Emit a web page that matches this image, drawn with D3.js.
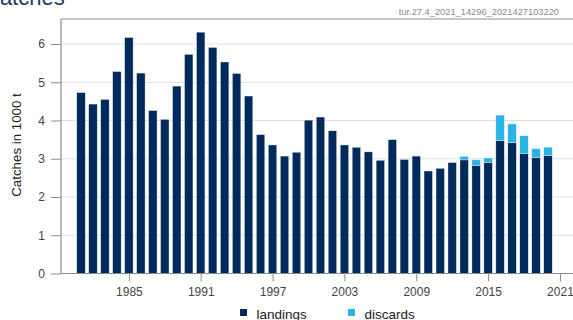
<!DOCTYPE html>
<html>
<head>
<meta charset="utf-8">
<script src="https://cdn.jsdelivr.net/npm/d3@7/dist/d3.min.js"></script>
<style>
  html, body { margin: 0; padding: 0; background: #fff; overflow: hidden; }
  svg { display: block; font-family: Arial, "Liberation Sans", sans-serif; }
</style>
</head>
<body>
<svg id="chart" width="573" height="320"></svg>
<script>
// Catch time series (thousand tonnes)
const years = d3.range(1981, 2021);
const landings = [
  4.73, 4.43, 4.55, 5.28, 6.17, 5.24, 4.26, 4.03, 4.90, 5.73,
  6.31, 5.91, 5.53, 5.23, 4.64, 3.63, 3.36, 3.07, 3.17, 4.01,
  4.09, 3.73, 3.36, 3.30, 3.18, 2.96, 3.50, 2.98, 3.07, 2.68,
  2.75, 2.90, 2.97, 2.83, 2.91, 3.48, 3.42, 3.13, 3.03, 3.09
];
const discards = [
  0, 0, 0, 0, 0, 0, 0, 0, 0, 0,
  0, 0, 0, 0, 0, 0, 0, 0, 0, 0,
  0, 0, 0, 0, 0, 0, 0, 0, 0, 0,
  0, 0, 0.09, 0.14, 0.11, 0.66, 0.49, 0.47, 0.23, 0.21
];
const yTicks = [0, 1, 2, 3, 4, 5, 6];
const xTicks = [1985, 1991, 1997, 2003, 2009, 2015, 2021];
const seriesNames = ["landings", "discards"];
const seriesColors = ["#002a5c", "#29b4e8"];

const svg = d3.select("#chart");
const plotL = 61, plotR = 573, plotT = 19, plotB = 273.5;

const x = d3.scaleLinear().domain([1979.33, 2022.09]).range([plotL, plotR]);
const y = d3.scaleLinear().domain([0, 6.654]).range([plotB, plotT]);
const barW = 8.4;

// Title (partly outside the canvas) and stock code
svg.append("text")
  .attr("x", -16).attr("y", 5)
  .attr("font-size", 22).attr("fill", "#1b3a64")
  .text("Catches");
svg.append("text")
  .attr("x", 559).attr("y", 14.5)
  .attr("text-anchor", "end")
  .attr("font-size", 9.3).attr("fill", "#8a8a8a")
  .text("tur.27.4_2021_14296_2021427103220");

// Horizontal gridlines
svg.append("g")
  .selectAll("line")
  .data(yTicks.filter(d => d > 0))
  .join("line")
  .attr("x1", plotL).attr("x2", plotR)
  .attr("y1", d => y(d)).attr("y2", d => y(d))
  .attr("stroke", "#dedede").attr("stroke-width", 1);

// Stacked bars
const rows = years.map((yr, i) => ({ year: yr, landings: landings[i], discards: discards[i] }));
const stack = d3.stack().keys(seriesNames)(rows);
const color = d3.scaleOrdinal().domain(seriesNames).range(seriesColors);

svg.append("g")
  .selectAll("g")
  .data(stack)
  .join("g")
  .attr("fill", d => color(d.key))
  .selectAll("rect")
  .data(d => d.filter(p => p[1] - p[0] > 0))
  .join("rect")
  .attr("x", d => x(d.data.year) - barW / 2)
  .attr("width", barW)
  .attr("y", d => y(d[1]))
  .attr("height", d => y(d[0]) - y(d[1]))
  .attr("stroke", "#e6ecf3").attr("stroke-width", 0.4);

// Frame: top edge
svg.append("line")
  .attr("x1", plotL).attr("x2", plotR)
  .attr("y1", plotT).attr("y2", plotT)
  .attr("stroke", "#8c8c8c").attr("stroke-width", 1.2);

// Y axis
const yAxis = svg.append("g")
  .attr("transform", `translate(${plotL},0)`)
  .call(d3.axisLeft(y).tickValues(yTicks).tickSize(10).tickPadding(6).tickFormat(d3.format("d")));
yAxis.select(".domain").attr("stroke", "#8c8c8c").attr("stroke-width", 1.2)
  .attr("d", `M0,${plotT}V${plotB}`);
yAxis.selectAll(".tick line").attr("stroke", "#8c8c8c");
yAxis.selectAll(".tick text").attr("font-size", 12).attr("fill", "#444")
  .attr("font-family", "Arial, 'Liberation Sans', sans-serif");

// X axis
const xAxis = svg.append("g")
  .attr("transform", `translate(0,${plotB})`)
  .call(d3.axisBottom(x).tickValues(xTicks).tickSize(8).tickPadding(6).tickFormat(d3.format("d")));
xAxis.select(".domain").attr("stroke", "#8c8c8c").attr("stroke-width", 1.2)
  .attr("d", `M${plotL},0H${plotR}`);
xAxis.selectAll(".tick line").attr("stroke", "#8c8c8c");
xAxis.selectAll(".tick text").attr("font-size", 12).attr("fill", "#444")
  .attr("font-family", "Arial, 'Liberation Sans', sans-serif");

// Y axis title
svg.append("text")
  .attr("transform", "translate(21,145) rotate(-90)")
  .attr("text-anchor", "middle")
  .attr("font-size", 13.3).attr("fill", "#222")
  .text("Catches in 1000 t");

// Legend
const legendPos = [240, 348];
const legend = svg.append("g")
  .selectAll("g")
  .data(seriesNames)
  .join("g")
  .attr("transform", (d, i) => `translate(${legendPos[i]},309)`);
legend.append("rect")
  .attr("width", 7).attr("height", 7)
  .attr("fill", d => color(d));
legend.append("text")
  .attr("x", 16.5).attr("y", 9.5)
  .attr("font-size", 13.5).attr("fill", "#222")
  .text(d => d);
</script>
</body>
</html>
